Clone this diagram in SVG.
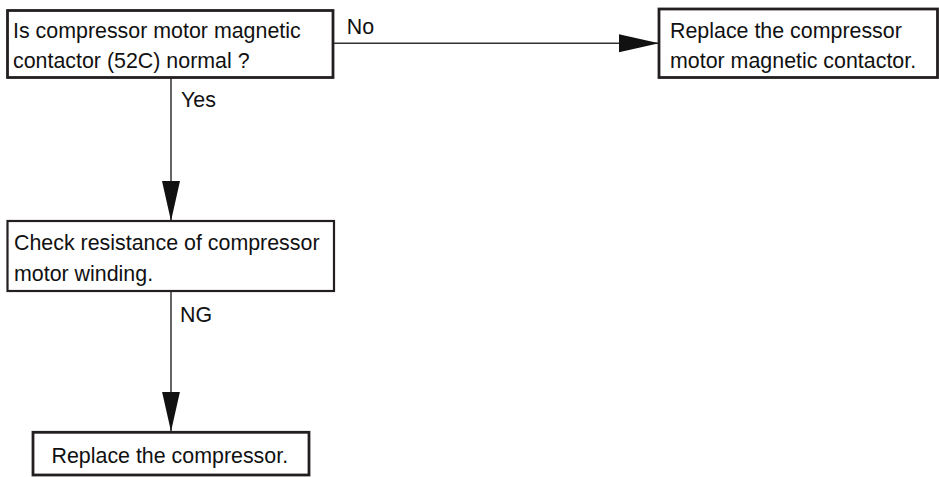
<svg xmlns="http://www.w3.org/2000/svg" width="939" height="477" viewBox="0 0 939 477">
<style>
.box{fill:#fff;stroke:#231f20;stroke-width:2.8}
.thin{stroke-width:2.2}
.t{font-family:"Liberation Sans",Arial,sans-serif;font-size:21.4px;fill:#111}
.c{stroke:#333;stroke-width:1.5;fill:none}
</style>
<defs>
<marker id="ah" markerUnits="userSpaceOnUse" markerWidth="40" markerHeight="20" refX="40" refY="9" orient="auto">
<path d="M0,0 L40,9 L0,18 Z" fill="#111"/>
</marker>
</defs>
<rect width="939" height="477" fill="#fff"/>
<g id="connectors">
<line class="c" x1="333" y1="43.3" x2="659" y2="43.3" marker-end="url(#ah)"/>
<text class="t" x="346.7" y="34">No</text>
<line class="c" x1="171" y1="78" x2="171" y2="221" marker-end="url(#ah)"/>
<text class="t" x="181" y="106.5">Yes</text>
<line class="c" x1="171" y1="291" x2="171" y2="431.5" marker-end="url(#ah)"/>
<text class="t" x="180" y="321.7">NG</text>
</g>
<g id="n1">
<rect class="box" x="7.5" y="10.5" width="325.5" height="67"/>
<text class="t" x="13" y="37.7">Is compressor motor magnetic</text>
<text class="t" x="13" y="68.3">contactor (52C) normal ?</text>
</g>
<g id="n2">
<rect class="box" x="659" y="9" width="278.5" height="68.5"/>
<text class="t" x="670" y="37.7">Replace the compressor</text>
<text class="t" x="670" y="68">motor magnetic contactor.</text>
</g>
<g id="n3">
<rect class="box thin" x="7.5" y="221" width="326.5" height="70"/>
<text class="t" x="14" y="250">Check resistance of compressor</text>
<text class="t" x="14" y="281">motor winding.</text>
</g>
<g id="n4">
<rect class="box" x="33" y="432.3" width="276" height="42.7"/>
<text class="t" x="51.5" y="463.3">Replace the compressor.</text>
</g>
</svg>
